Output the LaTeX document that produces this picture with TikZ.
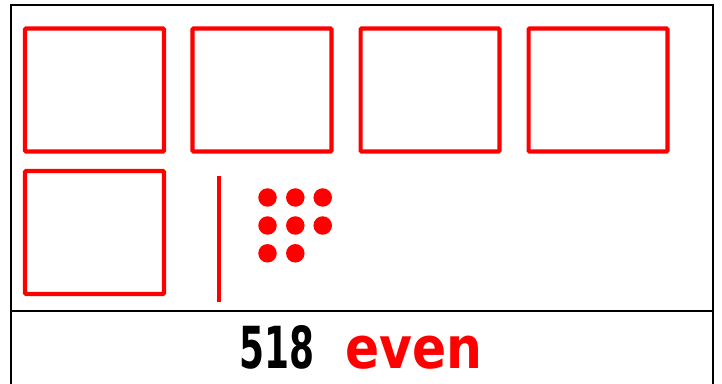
\documentclass[tikz,border=0pt]{standalone}
\usepackage{fontspec}
\setmainfont{DejaVu Sans}

\begin{document}
\begin{tikzpicture}[x=0.02cm, y=-0.02cm,
  tenbox/.style={draw=red, line width=2.3pt, rounded corners=0.6pt, minimum width=2.78cm, minimum height=2.46cm, inner sep=0pt},
  onedot/.style={circle, fill=red, minimum size=0.37cm, inner sep=0pt},
  frame/.style={draw=black, line width=1.1pt},
  lbl/.style={font=\fontsize{33}{36}\selectfont\bfseries, anchor=base, inner sep=0pt}
]
\useasboundingbox (0,0) rectangle (722,384);

% Frame
\coordinate (fbl) at (11,384);
\coordinate (ftl) at (11,5);
\coordinate (ftr) at (713,5);
\coordinate (fbr) at (713,384);
\coordinate (dl) at (11,311);
\coordinate (dr) at (713,311);
\draw[frame] (fbl) -- (ftl) -- (ftr) -- (fbr);
\draw[frame] (dl) -- (dr);

% Tens
\foreach \i/\x in {1/94.5, 2/262, 3/430, 4/598}
  \node[tenbox] (ten\i) at (\x,90) {};
\node[tenbox] (ten5) at (94.5,232.5) {};

% Divider
\coordinate (vt) at (219,176);
\coordinate (vb) at (219,302);
\draw[red, line width=2.3pt] (vt) -- (vb);

% Ones
\foreach \i/\x/\y in {1/267.5/197.5, 2/295.3/197.5, 3/322.7/197.5,
                      4/267.5/225.5, 5/295.3/225.5, 6/322.7/225.5,
                      7/267.5/253.3, 8/295.3/253.3}
  \node[onedot] (one\i) at (\x,\y) {};

% Label
\node[lbl] (num) at (277,368) {\scalebox{0.62}[1]{518}};
\node[lbl, text=red] (par) at (414,368) {\scalebox{0.87}[1]{even}};
\end{tikzpicture}
\end{document}
